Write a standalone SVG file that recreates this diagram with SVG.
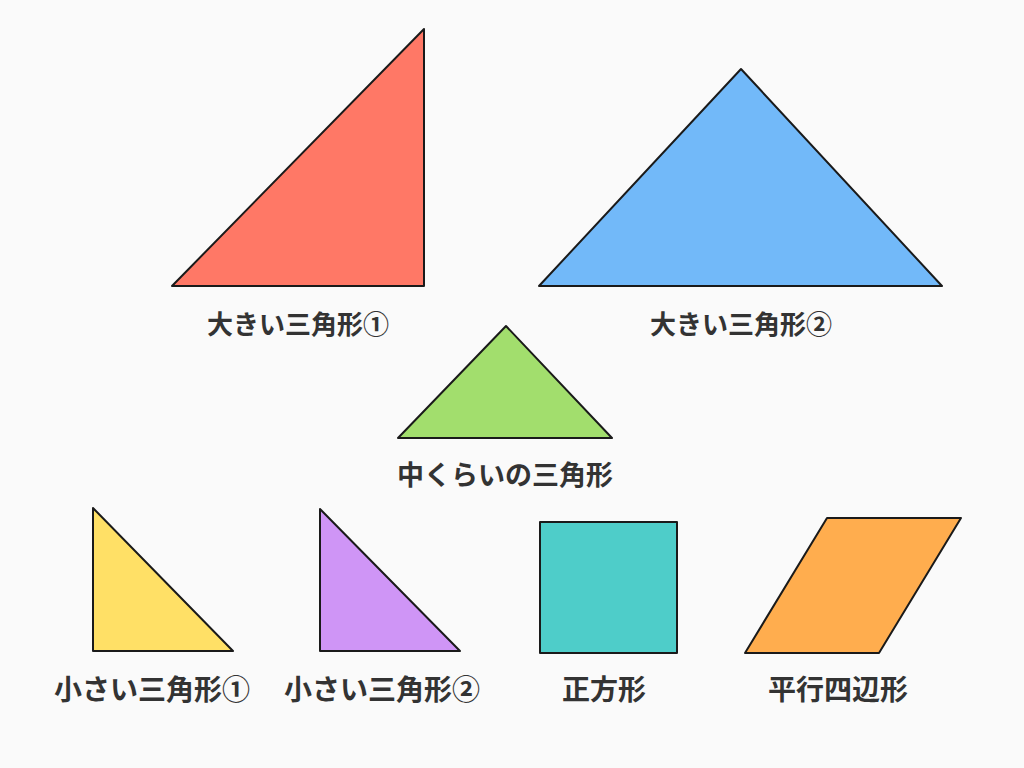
<svg xmlns="http://www.w3.org/2000/svg" width="1024" height="768" viewBox="0 0 1024 768">
<style>
.s{stroke:#1a1a1a;stroke-width:2;stroke-linejoin:round}
.t{font-family:"Noto Sans CJK JP","Noto Sans",sans-serif;font-weight:700;font-size:26px;fill:#333;text-anchor:middle}
.m{font-size:27px}
.b{font-size:28px}
</style>
<rect width="1024" height="768" fill="#fafafa"/>
<g id="big1"><polygon class="s" fill="#ff7866" points="424,29 424,286 172,286"/><text class="t" x="298" y="334">大きい三角形①</text></g>
<g id="big2"><polygon class="s" fill="#72b9f9" points="741,69 942,286 539,286"/><text class="t" x="741" y="334">大きい三角形②</text></g>
<g id="mid"><polygon class="s" fill="#a2de6d" points="506,326 612,438 398,438"/><text class="t m" x="505" y="485">中くらいの三角形</text></g>
<g id="small1"><polygon class="s" fill="#ffe066" points="93,508 233,651 93,651"/><text class="t b" x="152" y="700">小さい三角形①</text></g>
<g id="small2"><polygon class="s" fill="#cf95f6" points="320,509 460,651 320,651"/><text class="t b" x="382" y="700">小さい三角形②</text></g>
<g id="square"><rect class="s" fill="#4ecdc9" x="540" y="522" width="137" height="131"/><text class="t b" x="604" y="700">正方形</text></g>
<g id="para"><polygon class="s" fill="#ffad4e" points="827,518 961,518 879,653 745,653"/><text class="t b" x="838" y="700">平行四辺形</text></g>
<g id="connectors"/>
</svg>
